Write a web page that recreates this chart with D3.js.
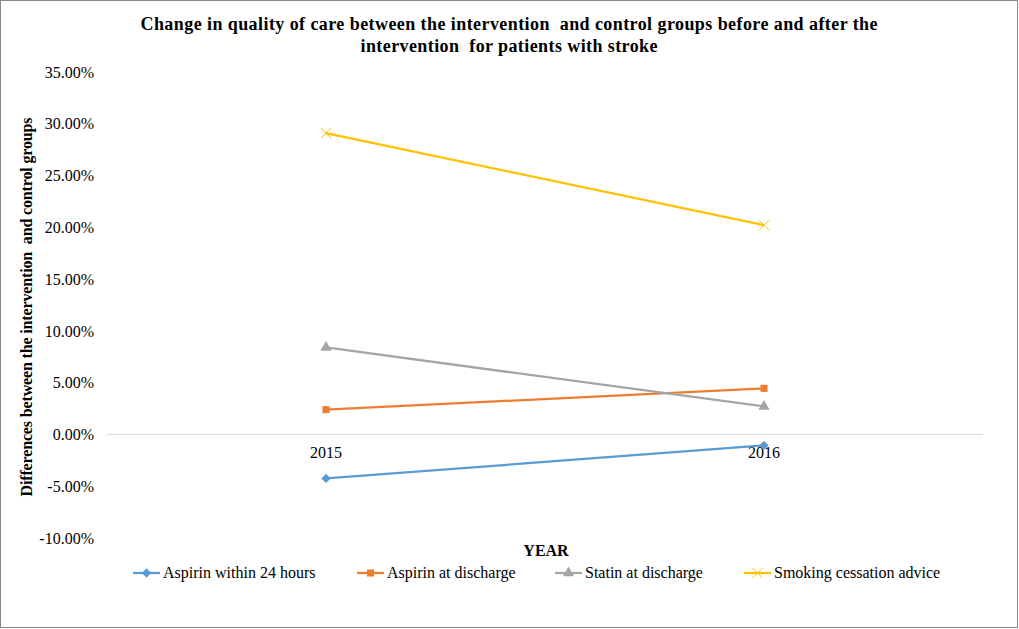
<!DOCTYPE html>
<html lang="en">
<head>
    <meta charset="UTF-8">
    <title>Quality of care - stroke</title>
    <style>
        *{ box-sizing: border-box; }
        html, body{ margin: 0; padding: 0; background: #fff; }
        #main{ width: 1019px; height: 629px; }
    </style>
</head>
<body>
<div id="main"></div>
<script src="https://d3js.org/d3.v7.min.js"></script>
<script>
    /* ===== data ===== */
    const years = ['2015', '2016']
    const seriesNames = ['Aspirin within 24 hours', 'Aspirin at discharge', 'Statin at discharge', 'Smoking cessation advice']
    const aspirin24 = [-0.0425, -0.0106]
    const aspirinDischarge = [0.024, 0.0445]
    const statinDischarge = [0.084, 0.027]
    const smokingAdvice = [0.291, 0.202]
    const yTicks = [-0.10, -0.05, 0, 0.05, 0.10, 0.15, 0.20, 0.25, 0.30, 0.35]

    const seriesValues = [aspirin24, aspirinDischarge, statinDischarge, smokingAdvice]
    const colors = ['#5B9BD5', '#ED7D31', '#A5A5A5', '#FFC000']
    const symbols = [d3.symbolDiamond2, d3.symbolSquare, d3.symbolTriangle, d3.symbolX]
    const FONT = 'Liberation Serif, DejaVu Serif, serif'

    /* ===== container ===== */
    const width = 1019
    const height = 629
    const margin = {left: 107, right: 36, top: 72, bottom: 91}

    const svg = d3.select('#main').append('svg')
        .attr('width', width)
        .attr('height', height)
        .attr('viewBox', `0 0 ${width} ${height}`)
        .attr('font-family', FONT)

    svg.append('rect')
        .attr('x', 0.5).attr('y', 0.5)
        .attr('width', width - 2).attr('height', height - 2)
        .attr('fill', '#fff').attr('stroke', '#888')

    /* ===== scales ===== */
    const xScale = d3.scaleBand()
        .domain(years)
        .range([margin.left, width - margin.right])

    const yScale = d3.scaleLinear()
        .domain([-0.10, 0.35])
        .range([height - margin.bottom, margin.top])

    /* ===== title ===== */
    const title = svg.append('text')
        .attr('text-anchor', 'middle')
        .attr('font-family', FONT)
        .attr('font-size', 18)
        .attr('font-weight', 'bold')
        .style('white-space', 'pre')
    title.append('tspan').attr('x', 509).attr('y', 30)
        .attr('textLength', 737).attr('lengthAdjust', 'spacing')
        .text('Change in quality of care between the intervention  and control groups before and after the')
    title.append('tspan').attr('x', 509).attr('y', 52)
        .attr('textLength', 297).attr('lengthAdjust', 'spacing')
        .text('intervention  for patients with stroke')

    /* ===== y axis ===== */
    const yAxis = svg.append('g')
        .attr('transform', `translate(${margin.left} 0)`)
        .call(d3.axisLeft(yScale).tickValues(yTicks).tickSize(0).tickPadding(13)
            .tickFormat(d => (d * 100).toFixed(2) + '%'))
        .attr('font-family', FONT)
        .attr('font-size', 16)
    yAxis.select('.domain').remove()
    yAxis.selectAll('text').attr('fill', '#000')

    /* zero line */
    svg.append('line')
        .attr('x1', margin.left).attr('x2', width - margin.right)
        .attr('y1', yScale(0)).attr('y2', yScale(0))
        .attr('stroke', '#d9d9d9').attr('stroke-width', 1)

    /* ===== x axis labels at zero ===== */
    const xAxis = svg.append('g')
        .attr('transform', `translate(0 ${yScale(0)})`)
        .call(d3.axisBottom(xScale).tickSize(0).tickPadding(12))
        .attr('font-family', FONT)
        .attr('font-size', 16)
    xAxis.select('.domain').remove()
    xAxis.selectAll('text').attr('fill', '#000')

    /* ===== axis titles ===== */
    svg.append('text')
        .attr('transform', `translate(32 307) rotate(-90)`)
        .attr('text-anchor', 'middle')
        .attr('font-size', 16)
        .attr('font-weight', 'bold')
        .style('white-space', 'pre')
        .attr('textLength', 379).attr('lengthAdjust', 'spacing')
        .text('Differences between the intervention  and control groups')

    svg.append('text')
        .attr('x', 546).attr('y', 556)
        .attr('text-anchor', 'middle')
        .attr('font-size', 16)
        .attr('font-weight', 'bold')
        .text('YEAR')

    /* ===== lines ===== */
    const line = d3.line()
        .x((d, i) => xScale(years[i]) + xScale.bandwidth() / 2)
        .y(d => yScale(d))

    const symbolSizes = [55, 50, 55, 70]

    seriesValues.forEach((vals, s) => {
        svg.append('path')
            .datum(vals)
            .attr('d', line)
            .attr('fill', 'none')
            .attr('stroke', colors[s])
            .attr('stroke-width', 2.25)

        svg.selectAll(null)
            .data(vals)
            .join('path')
            .attr('transform', (d, i) => `translate(${xScale(years[i]) + xScale.bandwidth() / 2} ${yScale(d)})`)
            .attr('d', d3.symbol().type(symbols[s]).size(symbolSizes[s]))
            .attr('fill', s === 3 ? 'none' : colors[s])
            .attr('stroke', s === 3 ? colors[s] : 'none')
            .attr('stroke-width', 1)
    })

    /* ===== legend ===== */
    const legendX = [133, 357, 555, 744]
    const legendY = 573
    const legend = svg.append('g')
    seriesNames.forEach((name, s) => {
        const g = legend.append('g').attr('transform', `translate(${legendX[s]} ${legendY})`)
        g.append('line')
            .attr('x1', 0).attr('x2', 27)
            .attr('stroke', colors[s]).attr('stroke-width', 2.25)
        g.append('path')
            .attr('transform', 'translate(13.5 0)')
            .attr('d', d3.symbol().type(symbols[s]).size(symbolSizes[s]))
            .attr('fill', s === 3 ? 'none' : colors[s])
            .attr('stroke', s === 3 ? colors[s] : 'none')
        g.append('text')
            .attr('x', 30).attr('y', 5)
            .attr('font-size', 16)
            .text(name)
    })
</script>
</body>
</html>
